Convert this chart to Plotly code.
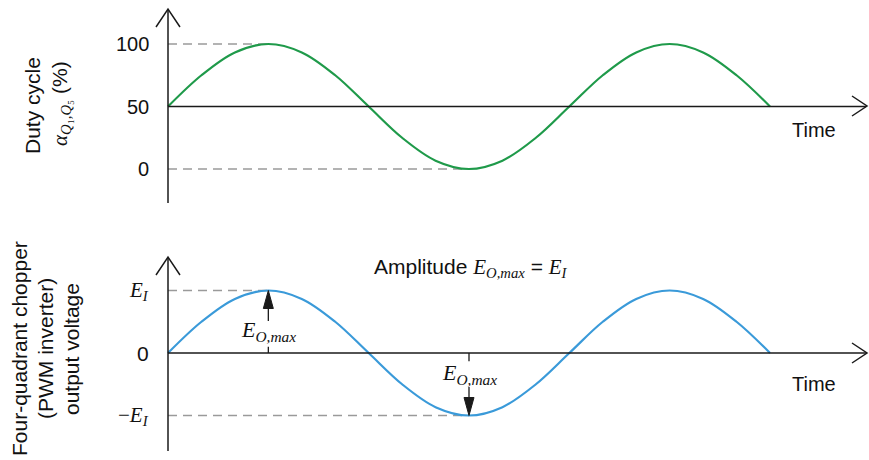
import plotly.graph_objects as go

# ---- data -------------------------------------------------------------
phase_deg = [0, 30, 60, 90, 120, 150, 180, 210, 240, 270, 300, 330,
             360, 390, 420, 450, 480, 510, 540]
duty_pct = [50, 75, 93.3, 100, 93.3, 75, 50, 25, 6.7, 0, 6.7, 25,
            50, 75, 93.3, 100, 93.3, 75, 50]
volt_pu = [0, 0.5, 0.866, 1, 0.866, 0.5, 0, -0.5, -0.866, -1, -0.866, -0.5,
           0, 0.5, 0.866, 1, 0.866, 0.5, 0]
duty_ticks = [100, 50, 0]
duty_tick_text = ["100", "50", "0"]
volt_ticks = [1, 0, -1]
peak_phase = 90
trough_phase = 270

# ---- geometry ---------------------------------------------------------
W, H = 869, 460
X0_PX, XEND_PX = 168, 770          # pixel span of 0..540 degrees
DEG_PER_PX = 540 / (XEND_PX - X0_PX)
x_range = [-X0_PX * DEG_PER_PX, (W - X0_PX) * DEG_PER_PX]

# top panel: 100 % at y=44 px, 0 % at y=169 px
top_ppu = (169 - 44) / 100
y_range = [100 - (H - 44) / top_ppu, 100 + 44 / top_ppu]
# bottom panel: +E_I at y=291 px, 0 at y=353 px
bot_zero_px, bot_ppu = 353, 62.5
y2_range = [-(H - bot_zero_px) / bot_ppu, bot_zero_px / bot_ppu]


def xd(p):
    return (p - X0_PX) * DEG_PER_PX


def pxx(p):
    return p / W


def pxy(p):
    return 1 - p / H


GREEN = "#1f9a4a"
BLUE = "#3a9ad9"
AXIS = "#1a1a1a"
DASH = "#9a9a9a"
INK = "#111111"
SANS = "Liberation Sans, Arial, sans-serif"
SERIF = "Liberation Serif, DejaVu Serif, serif"


def sans(size):
    return dict(family=SANS, size=size, color=INK)


def serif(size):
    return dict(family=SERIF, size=size, color=INK)


fig = go.Figure()
fig.add_trace(go.Scatter(x=phase_deg, y=duty_pct, mode="lines",
                         line=dict(color=GREEN, width=2.2, shape="spline"),
                         yaxis="y", hoverinfo="skip"))
fig.add_trace(go.Scatter(x=phase_deg, y=volt_pu, mode="lines",
                         line=dict(color=BLUE, width=2.2, shape="spline"),
                         yaxis="y2", hoverinfo="skip"))

shapes = []
# reference dashed lines
for yv, xe, yr in [(max(duty_pct), peak_phase, "y"), (min(duty_pct), trough_phase, "y"),
                   (max(volt_pu), peak_phase, "y2"), (min(volt_pu), trough_phase, "y2")]:
    shapes.append(dict(type="line", xref="x", yref=yr, x0=0, x1=xe, y0=yv, y1=yv,
                       line=dict(color=DASH, width=1.5, dash="9px,6px"), layer="below"))

# axes
for zero, yr, top_px, bot_px, mid_px in [(50, "y", 9, 203, 106), (0, "y2", 257, 451, 353)]:
    shapes.append(dict(type="line", xref="x", yref="paper", x0=0, x1=0,
                       y0=pxy(bot_px), y1=pxy(top_px + 1), line=dict(color=AXIS, width=1.5)))
    shapes.append(dict(type="line", xref="x", yref=yr, x0=0, x1=xd(866),
                       y0=zero, y1=zero, line=dict(color=AXIS, width=1.5)))
    # open chevrons at the axis ends
    v = (f"M {pxx(156)},{pxy(top_px + 18)} L {pxx(168)},{pxy(top_px)} "
         f"L {pxx(180)},{pxy(top_px + 18)}")
    h = (f"M {pxx(852)},{pxy(mid_px - 10)} L {pxx(867)},{pxy(mid_px)} "
         f"L {pxx(852)},{pxy(mid_px + 10)}")
    for p in (v, h):
        shapes.append(dict(type="path", xref="paper", yref="paper", path=p,
                           line=dict(color=AXIS, width=1.5)))

# amplitude dimension marks: tick on the zero line, shaft and filled head
HEAD_LEN = 18 / bot_ppu
HEAD_HALF = 5 * DEG_PER_PX
for xp, tip, tick_end, shaft_end in [(peak_phase, max(volt_pu), 0.1, (bot_zero_px - 321) / bot_ppu),
                                     (trough_phase, min(volt_pu), -0.13, (bot_zero_px - 387) / bot_ppu)]:
    sgn = 1 if tip > 0 else -1
    base = tip - sgn * HEAD_LEN
    shapes.append(dict(type="line", xref="x", yref="y2", x0=xp, x1=xp, y0=0, y1=tick_end,
                       line=dict(color=AXIS, width=1.3)))
    shapes.append(dict(type="line", xref="x", yref="y2", x0=xp, x1=xp, y0=shaft_end, y1=base,
                       line=dict(color=AXIS, width=1.3)))
    shapes.append(dict(type="path", xref="x", yref="y2",
                       path=(f"M {xp - HEAD_HALF},{base} L {xp},{tip} "
                             f"L {xp + HEAD_HALF},{base} Z"),
                       fillcolor=AXIS, line=dict(color=AXIS, width=1)))

ann = []
# tick labels, top
for v, t in zip(duty_ticks, duty_tick_text):
    ann.append(dict(x=pxx(151), xref="paper", y=v, yref="y", text=t, showarrow=False,
                    xanchor="right", yanchor="middle", font=sans(20)))
# tick labels, bottom
E_I = "<i>E</i><sub><i>I</i></sub>"
volt_tick_text = [E_I, f'<span style="font-family:{SANS}">0</span>', "−" + E_I]
for v, t in zip(volt_ticks, volt_tick_text):
    ann.append(dict(x=pxx(151), xref="paper", y=v, yref="y2", text=t, showarrow=False,
                    xanchor="right", yanchor="middle", font=serif(21)))

E_O = "<i>E</i><sub><i>O,max</i></sub>"
ann.append(dict(x=peak_phase, y=(bot_zero_px - 331) / bot_ppu, xref="x", yref="y2",
                text=E_O, showarrow=False, xanchor="center", yanchor="middle",
                font=serif(22)))
ann.append(dict(x=trough_phase, y=(bot_zero_px - 374) / bot_ppu, xref="x", yref="y2",
                text=E_O, showarrow=False, xanchor="center", yanchor="middle",
                font=serif(22)))

# amplitude note
ann.append(dict(x=pxx(471), xref="paper", y=pxy(268), yref="paper",
                xanchor="center", yanchor="middle",
                text=(f'Amplitude <span style="font-family:{SERIF}">{E_O}</span>'
                      f' = <span style="font-family:{SERIF}">{E_I}</span>'),
                showarrow=False, font=sans(21)))

# time labels
for ypx in (130, 384):
    ann.append(dict(x=pxx(814), xref="paper", y=pxy(ypx), yref="paper", text="Time",
                    xanchor="center", yanchor="middle", showarrow=False, font=sans(20)))

# axis titles
ann.append(dict(x=pxx(32), xref="paper", y=pxy(106), yref="paper", text="Duty cycle",
                xanchor="center", yanchor="middle",
                textangle=-90, showarrow=False, font=sans(21)))
ann.append(dict(x=pxx(61), xref="paper", y=pxy(104), yref="paper",
                xanchor="center", yanchor="middle",
                text=(f'<span style="font-family:{SERIF}"><i>α</i><sub><i>Q</i>₁'
                      '<i>,Q</i>₅</sub></span> (%)'),
                textangle=-90, showarrow=False, font=sans(21)))
for xpx, t in [(19, "Four-quadrant chopper"), (45, "(PWM inverter)"), (71, "output voltage")]:
    ann.append(dict(x=pxx(xpx), xref="paper", y=pxy(349), yref="paper", text=t,
                    xanchor="center", yanchor="middle",
                    textangle=-90, showarrow=False, font=sans(21)))

fig.update_layout(
    width=W, height=H, margin=dict(l=0, r=0, t=0, b=0),
    paper_bgcolor="white", plot_bgcolor="white", showlegend=False,
    font=dict(family=SANS, color=INK),
    xaxis=dict(range=x_range, visible=False, domain=[0, 1]),
    yaxis=dict(range=y_range, visible=False, domain=[0, 1]),
    yaxis2=dict(range=y2_range, visible=False, overlaying="y"),
    shapes=shapes, annotations=ann,
)
fig.write_html("out.html")
